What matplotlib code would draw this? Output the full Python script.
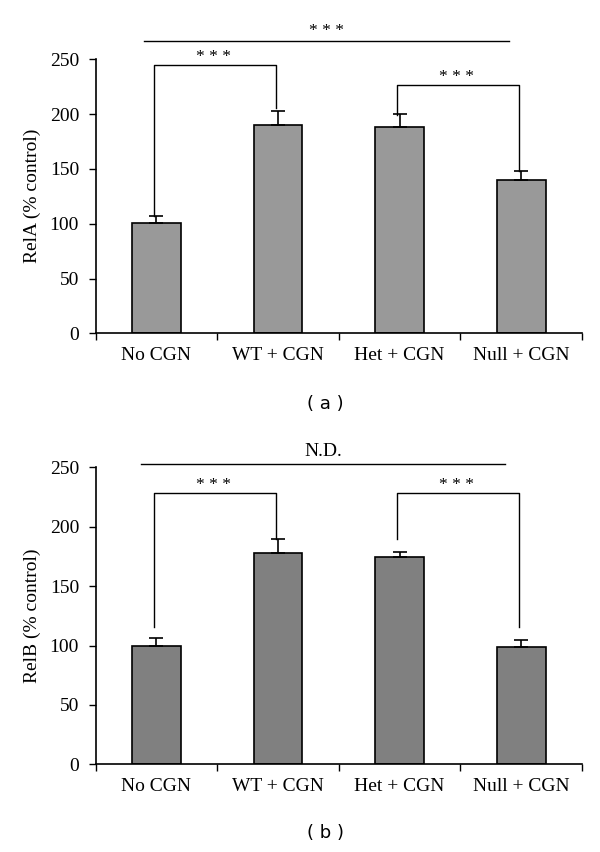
import matplotlib
matplotlib.use("Agg")
import matplotlib.pyplot as plt

# ================================
# Data
# ================================
groups = ["No CGN", "WT + CGN", "Het + CGN", "Null + CGN"]

rela_mean = [100.5, 190, 188, 140]
rela_err = [6.5, 13, 12, 8]

relb_mean = [100, 177.5, 174.5, 99]
relb_err = [6, 12.5, 4.5, 6]

# significance brackets: (left group, right group, height, left foot, right foot, label)
rela_brackets = [(0, 1, 245, 107, 206, "* * *"), (2, 3, 226.5, 199.5, 148, "* * *")]
relb_brackets = [(0, 1, 228, 116, 190, "* * *"), (2, 3, 228, 190, 116, "* * *")]

# overall line above each panel: (x start, x end, height, label)
rela_overall = (-0.1, 2.9, 266.5, "* * *")
relb_overall = (-0.13, 2.87, 252.5, "N.D.")

SERIF = "Liberation Serif"


def draw_panel(ax, means, errs, color, ylabel, brackets, overall, star_y, overall_y):
    x = range(len(groups))
    ax.bar(x, means, width=0.4, color=color, edgecolor="black", linewidth=1.2,
           zorder=2)
    ax.errorbar(x, means, yerr=[[0] * len(errs), errs], fmt="none",
                ecolor="black", elinewidth=1.2, capsize=5, capthick=1.2, zorder=3)

    for (a, b, h, fa, fb, lab) in brackets:
        ax.plot([a - 0.02, a - 0.02, b - 0.02, b - 0.02], [fa, h, h, fb],
                color="black", lw=1.0, clip_on=False)
        ax.text((a + b) / 2 - 0.03, h + star_y, lab, ha="center", va="center",
                fontsize=12.5, family=SERIF, clip_on=False)

    x0, x1, h, lab = overall
    ax.plot([x0, x1], [h, h], color="black", lw=1.0, clip_on=False)
    ax.text((x0 + x1) / 2, h + overall_y, lab, ha="center", va="center",
            fontsize=14 if lab == "N.D." else 12.5, family=SERIF, clip_on=False)

    ax.set_xlim(-0.5, 3.5)
    ax.set_ylim(0, 250)
    ax.set_yticks([0, 50, 100, 150, 200, 250])
    ax.set_xticks(list(x))
    ax.set_xticklabels(groups)
    ax.set_xticks([-0.5, 0.5, 1.5, 2.5, 3.5], minor=True)
    ax.tick_params(axis="x", which="major", length=0, pad=10)
    ax.tick_params(axis="x", which="minor", length=5, width=1, direction="out")
    ax.tick_params(axis="y", length=5, width=1, direction="out", pad=7)
    for lbl in ax.get_xticklabels() + ax.get_yticklabels():
        lbl.set_family(SERIF)
        lbl.set_fontsize(14)
    ax.set_ylabel(ylabel, family=SERIF, fontsize=14, labelpad=6)

    for side in ["top", "right"]:
        ax.spines[side].set_visible(False)
    for side in ["left", "bottom"]:
        ax.spines[side].set_linewidth(1.2)


# ================================
# Figure
# ================================
fig = plt.figure(figsize=(6, 8.52), dpi=100)

ax_a = fig.add_axes([0.1595, 0.6088, 0.8105, 0.3216])
draw_panel(ax_a, rela_mean, rela_err, "#999999", "RelA (% control)",
           rela_brackets, rela_overall, 7, 9)

ax_b = fig.add_axes([0.1595, 0.1029, 0.8105, 0.3486])
draw_panel(ax_b, relb_mean, relb_err, "#808080", "RelB (% control)",
           relb_brackets, relb_overall, 7, 11)

fig.text(0.542, 1 - 404 / 852, "( a )", ha="center", va="center",
         fontsize=13, family="DejaVu Sans")
fig.text(0.542, 1 - 833 / 852, "( b )", ha="center", va="center",
         fontsize=13, family="DejaVu Sans")

fig.savefig("out.png", dpi=100)
